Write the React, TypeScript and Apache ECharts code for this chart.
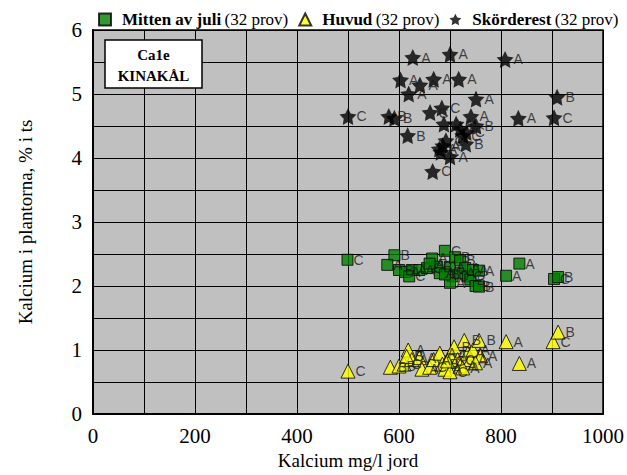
import React, { useEffect, useRef } from "react";
import * as echarts from "echarts";

// Mitten av juli (green squares)
const juliX = [499, 591, 577, 600, 612, 625, 620, 640, 655, 665, 675, 690, 680, 700, 710, 720, 705, 700, 720, 730, 735, 740, 745, 757, 750, 757, 810, 836, 904, 912, 690, 660];
const juliY = [2.41, 2.48, 2.33, 2.25, 2.22, 2.25, 2.15, 2.25, 2.28, 2.43, 2.3, 2.55, 2.2, 2.3, 2.45, 2.4, 2.15, 2.05, 2.2, 2.28, 2.15, 2.1, 2.25, 2.24, 2.0, 1.99, 2.16, 2.35, 2.11, 2.14, 2.18, 2.35];
const juliSite = ["C", "B", "A", "B", "A", "A", "C", "A", "C", "A", "B", "C", "A", "A", "B", "B", "C", "A", "A", "A", "C", "B", "A", "A", "B", "B", "A", "A", "C", "B", "B", "A"];

// Huvud (yellow triangles)
const huvudX = [500, 583, 600, 610, 618, 625, 615, 640, 645, 660, 668, 680, 685, 690, 700, 700, 708, 715, 720, 728, 735, 740, 745, 757, 760, 750, 810, 836, 902, 912, 695, 725];
const huvudY = [0.67, 0.73, 0.75, 0.78, 1.0, 0.85, 0.9, 0.88, 0.7, 0.73, 0.85, 0.95, 0.78, 0.7, 0.66, 0.92, 1.05, 0.85, 0.75, 1.15, 0.95, 0.85, 1.0, 1.15, 0.91, 0.8, 1.13, 0.79, 1.13, 1.28, 0.83, 0.72];
const huvudSite = ["C", "B", "B", "C", "A", "A", "B", "A", "A", "C", "A", "A", "B", "A", "C", "A", "B", "C", "A", "B", "A", "A", "A", "B", "A", "A", "A", "A", "C", "B", "C", "A"];

// Skörderest (black stars)
const skordX = [627, 700, 808, 603, 641, 668, 717, 619, 751, 910, 500, 580, 591, 661, 684, 741, 834, 904, 688, 712, 751, 720, 732, 617, 725, 731, 692, 686, 679, 682, 666, 700];
const skordY = [5.57, 5.62, 5.54, 5.22, 5.14, 5.23, 5.23, 5.0, 4.92, 4.95, 4.65, 4.65, 4.62, 4.71, 4.78, 4.65, 4.62, 4.63, 4.53, 4.53, 4.5, 4.45, 4.4, 4.35, 4.35, 4.22, 4.27, 4.19, 4.14, 4.09, 3.79, 4.02];
const skordSite = ["A", "A", "A", "A", "A", "A", "A", "A", "A", "B", "C", "B", "B", "C", "C", "A", "A", "C", "A", "A", "B", "B", "C", "B", "C", "B", "C", "A", "A", "C", "C", "A"];

const seriesNames = ["Mitten av juli", "Huvud", "Skörderest"];
const sampleNote = "(32 prov)";
const xTickStep = 200;

const STAR =
  "path://M0,-10L2.94,-4.05L9.51,-3.09L4.76,1.55L5.88,8.09L0,5L-5.88,8.09L-4.76,1.55L-9.51,-3.09L-2.94,-4.05Z";

const build = (xs: number[], ys: number[], s: string[]) => xs.map((x, i) => [x, ys[i], s[i]]);

export default function App() {
  const ref = useRef<HTMLDivElement>(null);
  useEffect(() => {
    if (!ref.current) return;
    const chart = echarts.init(ref.current, null, { renderer: "svg" });
    const serif = "Liberation Serif";
    const pointLabel = {
      show: true,
      position: "right" as const,
      distance: 0,
      formatter: (p: any) => p.value[2],
      fontSize: 14,
      fontFamily: "Liberation Sans",
      color: "#1a1a1a",
    };
    chart.setOption({
      animation: false,
      backgroundColor: "#fff",
      grid: {
        left: 93,
        right: 23,
        top: 30,
        bottom: 60,
        show: true,
        backgroundColor: "#c0c0c0",
        borderColor: "#000",
        borderWidth: 1.5,
      },
      legend: {
        left: 93,
        top: 6,
        itemWidth: 12,
        itemHeight: 12,
        itemGap: 10,
        data: seriesNames,
        formatter: (name: string) => `{b|${name}} {n|${sampleNote}}`,
        textStyle: {
          color: "#000",
          rich: {
            b: { fontFamily: serif, fontWeight: "bold", fontSize: 17, color: "#000", padding: [0, 0, 0, 6] },
            n: { fontFamily: serif, fontWeight: "normal", fontSize: 17, color: "#000" },
          },
        },
      },
      xAxis: {
        type: "value",
        min: 0,
        max: 1000,
        interval: 100,
        name: "Kalcium mg/l jord",
        nameLocation: "middle",
        nameGap: 37,
        nameTextStyle: { fontFamily: serif, fontSize: 19, color: "#000" },
        axisLine: { show: true, lineStyle: { color: "#000", width: 2 } },
        axisTick: { show: false },
        axisLabel: {
          margin: 11,
          fontFamily: serif,
          fontSize: 21,
          color: "#000",
          formatter: (v: number) => (v % xTickStep === 0 ? String(v) : ""),
        },
        splitLine: { show: true, lineStyle: { color: "#000", width: 1 } },
      },
      yAxis: {
        type: "value",
        min: 0,
        max: 6,
        interval: 0.5,
        name: "Kalcium i plantorna, % i ts",
        nameLocation: "middle",
        nameGap: 58,
        nameTextStyle: { fontFamily: serif, fontSize: 19, color: "#000" },
        axisLine: { show: true, lineStyle: { color: "#000", width: 2 } },
        axisTick: { show: false },
        axisLabel: {
          margin: 11,
          fontFamily: serif,
          fontSize: 21,
          color: "#000",
          formatter: (v: number) => (Number.isInteger(v) ? String(v) : ""),
        },
        splitLine: { show: true, lineStyle: { color: "#000", width: 1 } },
      },
      series: [
        {
          name: seriesNames[0],
          type: "scatter",
          symbol: "rect",
          symbolSize: 11,
          itemStyle: { color: "#008000", borderColor: "#000", borderWidth: 1 },
          label: pointLabel,
          data: build(juliX, juliY, juliSite),
        },
        {
          name: seriesNames[1],
          type: "scatter",
          symbol: "triangle",
          symbolSize: 14,
          itemStyle: { color: "#ffff00", borderColor: "#000", borderWidth: 1 },
          label: pointLabel,
          data: build(huvudX, huvudY, huvudSite),
        },
        {
          name: seriesNames[2],
          type: "scatter",
          symbol: STAR,
          symbolSize: 17,
          itemStyle: { color: "#000" },
          label: pointLabel,
          data: build(skordX, skordY, skordSite),
        },
      ],
      graphic: [
        {
          type: "rect",
          shape: { x: 105, y: 40, width: 97, height: 48 },
          style: { fill: "#fff", stroke: "#000", lineWidth: 1.5 },
          z: 10,
        },
        {
          type: "text",
          x: 153.5,
          y: 55,
          z: 11,
          style: {
            text: "Ca1e",
            align: "center",
            verticalAlign: "middle",
            fontFamily: serif,
            fontWeight: "bold",
            fontSize: 15,
            fill: "#000",
          },
        },
        {
          type: "text",
          x: 153.5,
          y: 76,
          z: 11,
          style: {
            text: "KINAKÅL",
            align: "center",
            verticalAlign: "middle",
            fontFamily: serif,
            fontWeight: "bold",
            fontSize: 15,
            fill: "#000",
          },
        },
      ],
    });
    return () => chart.dispose();
  }, []);
  return <div ref={ref} style={{ position: "absolute", left: 0, top: 0, width: 627, height: 475 }} />;
}
